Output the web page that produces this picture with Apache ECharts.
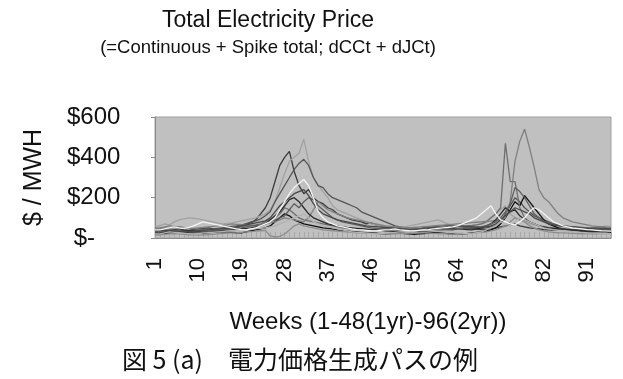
<!DOCTYPE html>
<html>
<head>
<meta charset="utf-8">
<script src="https://cdn.jsdelivr.net/npm/echarts@6/dist/echarts.min.js"></script>
<style>
  html, body { margin: 0; padding: 0; background: #fff; }
  #main { width: 623px; height: 379px; }
</style>
</head>
<body>
<div id="main"></div>
<script>
// 週（1〜96）
const weeks = [];
for (let i = 1; i <= 96; i++) weeks.push(String(i));

const yTicks = [0, 200, 400, 600];

// 各パス（$/MWH）
const path1 = [35,35,40,38,42,45,40,38,42,45, 48,50,46,44,48,52,55,50,60,70, 75,90,120,150,200,280,360,400,430,330, 260,220,240,200,180,170,150,140,120,110, 100,90,85,80,70,75,65,60,55,50, 48,45,50,48,46,44,50,55,52,48, 45,42,40,45,48,50,46,44,42,40, 45,50,55,60,65,70,60,55,50,48, 45,42,40,38,40,42,45,40,38,36, 35,38,40,42,38,36];
const path2 = [60,60,70,65,80,90,95,100,98,95, 90,85,80,75,70,72,75,80,85,90, 95,100,110,120,140,180,250,320,380,400, 420,490,380,300,260,230,200,160,140,130, 120,110,100,90,80,70,65,60,58,55, 52,50,55,60,65,70,75,80,85,90, 80,70,65,60,55,58,60,65,70,80, 100,120,140,160,120,100,90,80,70,65, 60,58,55,52,50,48,50,52,55,50, 48,45,50,55,60,55];
const path3 = [30,30,32,35,30,28,32,35,38,40, 42,40,45,48,50,55,58,60,65,70, 80,85,95,110,130,180,220,260,300,340, 370,390,360,300,260,250,220,200,190,180, 170,160,150,130,120,110,100,90,80,70, 60,55,50,48,46,45,50,52,55,58, 60,62,60,58,55,52,50,48,46,50, 55,60,80,120,160,200,180,150,130,110, 100,90,80,70,65,60,58,55,52,50, 48,50,52,55,50,48];
const path4 = [40,40,45,50,55,50,48,52,60,70, 80,75,70,65,60,55,50,45,42,40, 45,50,60,70,80,100,140,180,220,250, 270,290,260,200,130,100,80,70,60,55, 50,45,42,40,38,36,35,38,40,42, 45,40,38,36,35,38,40,42,45,48, 50,52,55,60,70,80,90,100,120,140, 160,120,90,80,70,65,80,100,130,150, 140,120,100,80,70,60,55,50,48,45, 42,40,38,36,35,34];
const path5 = [20,20,22,25,28,30,28,26,25,24, 22,25,28,30,32,30,28,26,25,30, 35,40,45,50,60,80,100,120,110,90, 80,70,65,60,55,50,48,45,40,38, 35,32,30,28,26,25,24,22,20,22, 25,24,22,20,18,20,22,24,26,25, 24,22,20,18,20,22,25,28,30,35, 40,50,70,100,140,180,160,210,180,150, 120,90,70,60,50,45,40,38,35,32, 30,28,30,32,30,28];
const path6 = [45,45,50,48,52,55,50,48,46,44, 42,40,42,45,48,50,52,55,58,60, 62,65,70,80,90,100,120,150,140,120, 100,90,85,80,75,70,65,60,55,50, 48,46,44,42,40,42,44,46,48,50, 52,50,48,46,44,42,40,42,44,46, 48,50,52,55,58,60,62,65,70,80, 100,120,150,470,280,280,150,100,80,70, 60,55,50,48,46,44,42,40,42,44, 46,48,50,48,46,44];
const path7 = [50,50,55,60,58,55,52,50,48,50, 52,55,58,60,62,65,70,68,66,64, 62,60,65,70,75,80,90,100,95,90, 85,80,100,140,180,160,140,130,120,110, 100,95,90,85,80,75,70,65,60,58, 56,54,52,50,52,54,56,58,60,62, 64,66,68,70,72,74,76,78,80,82, 84,86,90,100,180,380,480,540,450,350, 240,200,180,150,120,100,90,80,75,70, 65,60,58,56,54,52];
const path8 = [25,25,28,30,32,35,38,36,34,32, 30,32,34,36,38,40,42,44,46,48, 50,55,60,70,90,110,130,160,190,200, 180,150,120,100,90,80,70,65,60,55, 52,50,48,46,44,42,40,38,36,34, 32,30,32,34,36,38,40,42,44,46, 48,50,48,46,44,42,40,45,50,60, 70,90,120,150,130,140,110,90,80,70, 60,55,50,48,46,44,42,40,38,36, 34,32,34,36,38,36];
const path9 = [30,30,35,40,38,36,34,32,30,28, 30,32,35,38,40,42,45,48,50,55, 60,62,65,70,80,90,100,110,140,170, 150,180,200,190,160,140,120,100,90,80, 75,70,65,60,55,50,48,46,44,42, 40,38,36,35,34,33,32,34,36,38, 40,42,44,46,48,50,52,54,56,60, 70,80,100,130,170,250,230,200,160,120, 100,85,75,70,65,60,58,56,54,52, 50,48,46,44,42,40];
const path10 = [15,15,18,20,22,20,18,16,15,14, 15,16,18,20,22,24,25,26,28,30, 32,34,36,38,10,5,8,20,40,60, 70,60,55,50,45,40,38,36,34,32, 30,28,26,25,24,23,22,21,20,20, 21,22,23,24,25,26,25,24,23,22, 21,20,19,18,20,22,24,26,28,30, 35,40,50,60,80,100,90,80,60,50, 40,35,30,28,26,25,24,23,22,21, 20,20,21,22,23,22];
const path11 = [40,40,38,36,34,32,30,32,34,36, 38,40,42,44,46,48,50,55,60,65, 70,75,80,85,100,130,160,180,200,220, 230,240,210,170,140,120,110,100,90,85, 80,75,70,65,60,58,56,54,52,50, 48,46,44,42,40,42,44,46,48,50, 52,54,56,58,60,58,56,54,52,55, 60,70,90,110,130,150,140,130,120,100, 90,80,70,65,60,58,56,54,52,50, 48,46,44,45,46,44];
const path12 = [20,20,25,30,28,26,24,22,20,22, 24,26,28,30,32,34,36,38,40,42, 44,46,48,50,55,60,70,80,90,100, 110,120,100,80,70,60,55,50,45,40, 35,30,28,26,24,22,20,22,24,26, 28,30,32,34,36,38,40,38,36,34, 32,30,28,26,24,22,20,25,30,40, 50,60,80,70,60,80,100,90,80,70, 60,50,45,40,38,36,34,32,30,28, 26,25,24,23,22,21];

const paths = [path1, path2, path3, path4, path5, path6, path7, path8, path9, path10, path11, path12];
const pathColors = ['#3a3a3a', '#a2a2a2', '#555555', '#f4f4f4', '#101010', '#6e6e6e', '#808080', '#2a2a2a', '#5e5e5e', '#8e8e8e', '#484848', '#b2b2b2'];

const chart = echarts.init(document.getElementById('main'));

const series = paths.map((p, i) => ({
  type: 'line',
  data: p,
  symbol: 'none',
  lineStyle: { color: pathColors[i], width: 1.3 },
  z: i === 3 ? 5 : 2
}));

const font = 'Liberation Sans, Arial, sans-serif';

chart.setOption({
  animation: false,
  backgroundColor: '#ffffff',
  title: {
    text: 'Total Electricity Price',
    subtext: '(=Continuous + Spike total; dCCt + dJCt)',
    left: 263,
    textAlign: 'center',
    top: 4,
    itemGap: 6,
    textStyle: { fontFamily: font, fontSize: 23, fontWeight: 'normal', color: '#111' },
    subtextStyle: { fontFamily: font, fontSize: 18.5, color: '#111' }
  },
  grid: { left: 155, right: 12, top: 117, bottom: 141, show: true, backgroundColor: '#c0c0c0', borderColor: '#a0a0a0', borderWidth: 1 },
  xAxis: {
    type: 'category',
    data: weeks,
    boundaryGap: false,
    name: 'Weeks (1-48(1yr)-96(2yr))',
    nameLocation: 'middle',
    nameGap: 72,
    nameTextStyle: { fontFamily: font, fontSize: 24, color: '#111', padding: [0, 30, 0, 0] },
    axisLine: { lineStyle: { color: '#888' } },
    axisTick: { show: true, inside: true, length: 6, interval: 0, lineStyle: { color: '#a8a8a8' } },
    axisLabel: { interval: 8, rotate: 90, margin: 20, fontFamily: font, fontSize: 22, color: '#111' }
  },
  yAxis: {
    type: 'value',
    min: yTicks[0],
    max: yTicks[yTicks.length - 1],
    interval: 200,
    name: '$ / MWH',
    nameLocation: 'middle',
    nameRotate: 90,
    nameGap: 108,
    nameTextStyle: { fontFamily: font, fontSize: 25, color: '#111' },
    axisLine: { show: true, lineStyle: { color: '#888' } },
    axisTick: { show: true, length: 4, lineStyle: { color: '#888' } },
    splitLine: { show: false },
    axisLabel: {
      align: 'left',
      margin: 88,
      fontFamily: font,
      fontSize: 24,
      color: '#111',
      formatter: v => v === 0 ? ' $-' : '$' + v
    }
  },
  graphic: [{
    type: 'text',
    left: 122,
    top: 347,
    style: { text: '図 5 (a)　電力価格生成パスの例', fontFamily: 'Noto Sans CJK JP', fontSize: 25, fill: '#111' }
  }],
  series: series
});
</script>
</body>
</html>
